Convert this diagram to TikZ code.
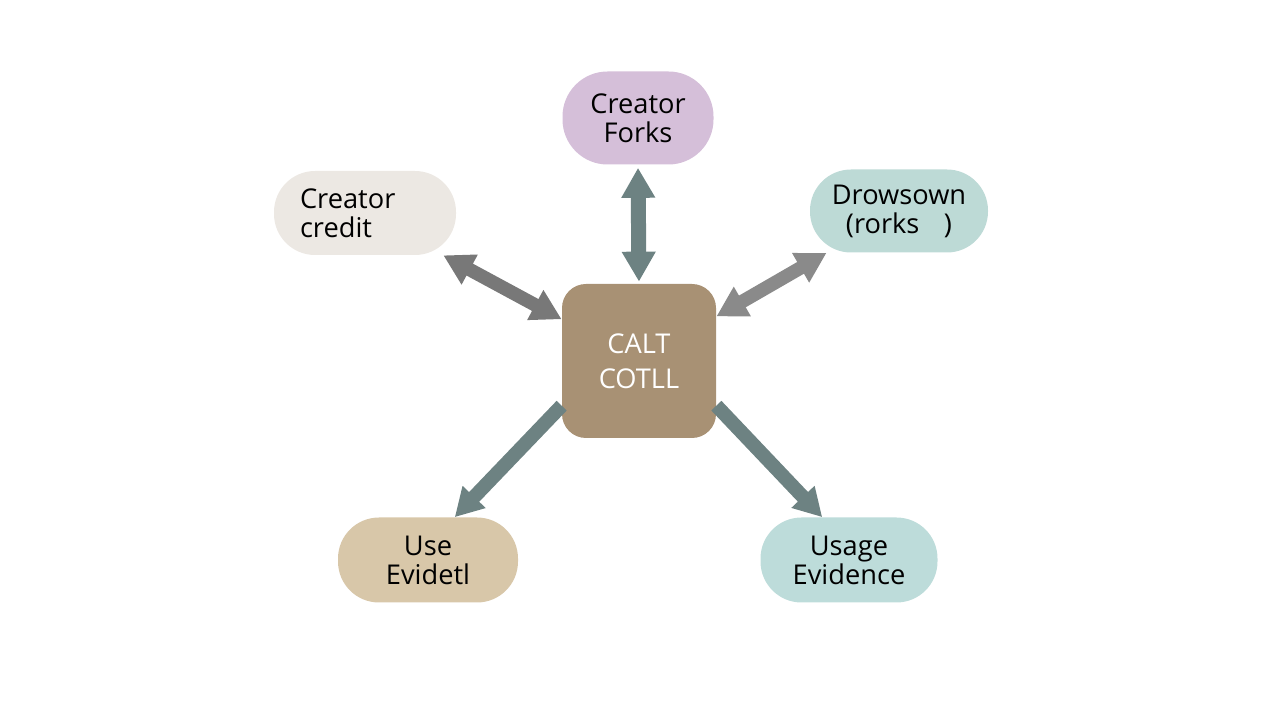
\documentclass[tikz,border=0pt]{standalone}
\usepackage{fontspec}
\setmainfont{Open Sans}
\usetikzlibrary{arrows.meta,positioning,calc}
\definecolor{hubfill}{RGB}{168,145,116}
\definecolor{forkfill}{RGB}{213,191,217}
\definecolor{credfill}{RGB}{236,232,227}
\definecolor{drowfill}{RGB}{189,218,214}
\definecolor{usefill}{RGB}{216,199,169}
\definecolor{evidfill}{RGB}{189,220,218}
\definecolor{slatearr}{RGB}{109,130,130}
\definecolor{grayarrA}{RGB}{120,120,120}
\definecolor{grayarrB}{RGB}{138,138,138}
\tikzset{
  pill/.style={rounded corners=0.82cm, inner sep=0pt, align=center,
               font=\fontsize{15.5}{16.5}\selectfont, text=black},
  hubbox/.style={fill=hubfill, rounded corners=0.48cm, inner sep=0pt,
                 minimum width=3.08cm, minimum height=3.08cm, align=center,
                 font=\fontsize{15.5}{20}\selectfont, text=white},
  dblarr/.style={{Triangle[width=0.64cm,length=0.6cm]}-{Triangle[width=0.64cm,length=0.6cm]},
                 line width=0.3cm},
  onearr/.style={-{Triangle[width=0.6cm,length=0.56cm]}, line width=0.28cm, slatearr},
}
\begin{document}
\begin{tikzpicture}
    \useasboundingbox (0,0) rectangle (25.6,14.4);
    \node[hubbox] (hub) at (12.78,7.18) {CALT\\COTLL};
    \node[pill, fill=forkfill, rounded corners=0.9cm, minimum width=3.02cm, minimum height=1.86cm]
      (forks) at (12.76,12.04) {Creator\\Forks};
    \node[pill, fill=credfill, minimum width=3.64cm, minimum height=1.68cm,
      text width=2.6cm, align=left] (credit) at (7.30,10.14) {Creator\\credit};
    \node[pill, fill=drowfill, minimum width=3.56cm, minimum height=1.66cm]
      (drows) at (17.98,10.18) {Drowsown\\(rorks\hspace{0.9em})};
    \node[pill, fill=usefill, minimum width=3.6cm, minimum height=1.7cm]
      (useev) at (8.56,3.20) {Use\\Evidetl};
    \node[pill, fill=evidfill, minimum width=3.54cm, minimum height=1.7cm]
      (usage) at (16.98,3.20) {Usage\\Evidence};
    % connectors
    \draw[dblarr, slatearr, shorten <=0.06cm, shorten >=0.04cm] (forks.south) -- (hub.north);
    \draw[dblarr, grayarrA, line width=0.27cm] (credit) -- (hub);
    \draw[dblarr, grayarrB, line width=0.27cm] (drows) -- (hub);
    \draw[onearr] (hub.210) -- (useev.58);
    \draw[onearr] (hub.-30) -- (usage.122);
  \end{tikzpicture}
\end{document}
